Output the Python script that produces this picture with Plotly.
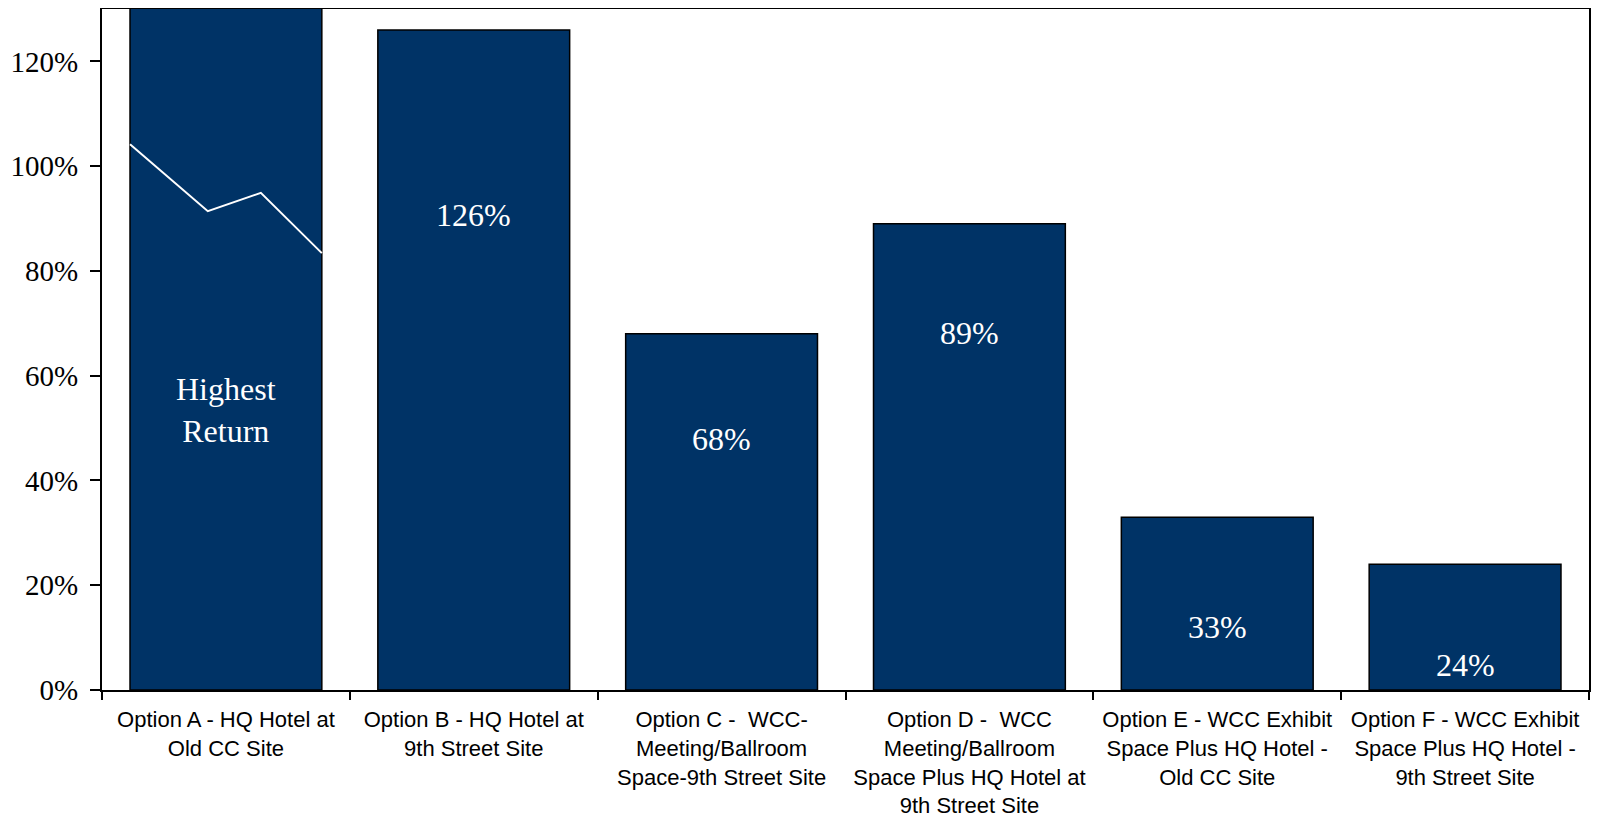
import plotly.graph_objects as go

categories = [
    "Option A - HQ Hotel at<br>Old CC Site",
    "Option B - HQ Hotel at<br>9th Street Site",
    "Option C -  WCC-<br>Meeting/Ballroom<br>Space-9th Street Site",
    "Option D -  WCC<br>Meeting/Ballroom<br>Space Plus HQ Hotel at<br>9th Street Site",
    "Option E - WCC Exhibit<br>Space Plus HQ Hotel -<br>Old CC Site",
    "Option F - WCC Exhibit<br>Space Plus HQ Hotel -<br>9th Street Site",
]
# Option A runs off the top of the chart (value not shown)
values = [140, 126, 68, 89, 33, 24]
bar_labels = ["Highest<br>Return", "126%", "68%", "89%", "33%", "24%"]
label_y = [53.5, 90.7, 47.9, 68.2, 12.0, 4.8]

# white break line drawn across bar A (x in category units, y in %)
break_x = [-0.387, -0.073, 0.141, 0.387]
break_y = [104.2, 91.4, 94.9, 83.4]

BAR = "#003366"

fig = go.Figure()
fig.add_trace(go.Bar(
    x=categories, y=values,
    marker=dict(color=BAR, line=dict(color="black", width=1.5)),
    width=0.774, showlegend=False, hoverinfo="skip",
))
fig.add_trace(go.Scatter(
    x=break_x, y=break_y, mode="lines", xaxis="x2",
    line=dict(color="white", width=2), showlegend=False, hoverinfo="skip",
))

for i, (t, yv) in enumerate(zip(bar_labels, label_y)):
    fig.add_annotation(
        x=i, y=yv, xref="x2", yref="y", text=t, showarrow=False,
        font=dict(family="Liberation Serif", size=32, color="white"),
    )

# page body has an 8px default margin, so the figure is offset by 8px
fig.update_layout(
    width=1583, height=810,
    margin=dict(l=94, r=2, t=1, b=128, autoexpand=False),
    paper_bgcolor="white", plot_bgcolor="white",
    bargap=0.226,
    xaxis=dict(
        type="category", tickson="boundaries", ticks="outside", ticklen=8,
        tickwidth=2, tickcolor="black",
        showline=True, linecolor="black", linewidth=2, mirror=True,
        showgrid=False, range=[-0.5, 5.5], automargin=False,
        ticklabelstandoff=9,
        tickfont=dict(family="Liberation Sans", size=22, color="black"),
    ),
    xaxis2=dict(
        overlaying="x", range=[-0.5, 5.5], visible=False, showgrid=False,
    ),
    yaxis=dict(
        range=[0, 130], tickvals=[0, 20, 40, 60, 80, 100, 120],
        ticktext=["0%", "20%", "40%", "60%", "80%", "100%", "120%"],
        ticks="outside", ticklen=10, tickwidth=2, tickcolor="black",
        showline=True, linecolor="black", linewidth=2, mirror=True,
        showgrid=False, zeroline=False, automargin=False,
        ticklabelstandoff=6,
        tickfont=dict(family="Liberation Serif", size=29, color="black"),
    ),
)

fig.write_html("out.html")
